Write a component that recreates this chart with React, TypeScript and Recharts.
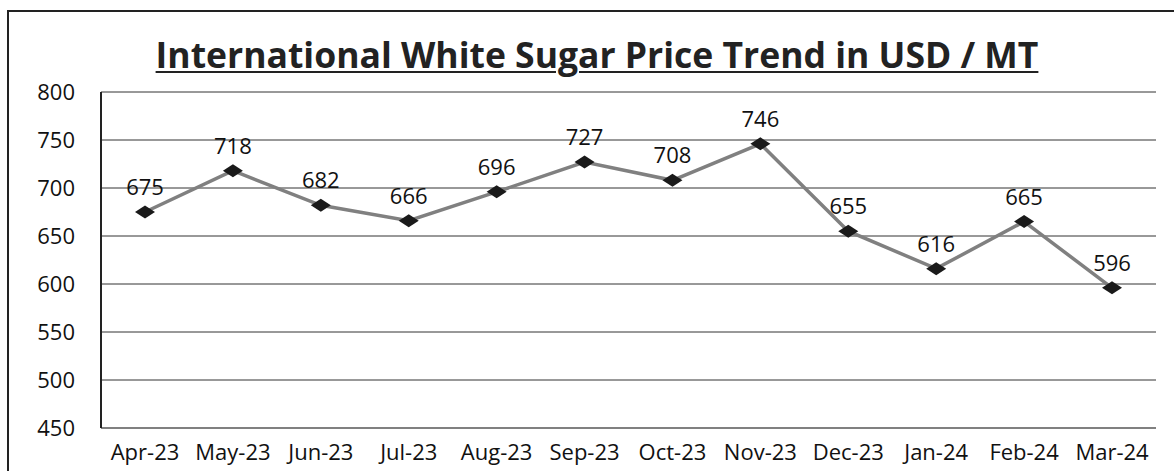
import { CartesianGrid, LabelList, Line, LineChart, XAxis, YAxis } from "recharts";

const months = [
  "Apr-23", "May-23", "Jun-23", "Jul-23", "Aug-23", "Sep-23",
  "Oct-23", "Nov-23", "Dec-23", "Jan-24", "Feb-24", "Mar-24",
];
const prices = [675, 718, 682, 666, 696, 727, 708, 746, 655, 616, 665, 596];
const yTicks = [450, 500, 550, 600, 650, 700, 750, 800];

const data = months.map((month, i) => ({ month, price: prices[i] }));

const FONT = "'Open Sans', 'Noto Sans', sans-serif";

function Diamond(props: { cx?: number; cy?: number; index?: number }) {
  const { cx, cy, index } = props;
  if (cx == null || cy == null) return null;
  return (
    <polygon
      key={`d-${index}`}
      points={`${cx - 10},${cy} ${cx},${cy - 6.5} ${cx + 10},${cy} ${cx},${cy + 6.5}`}
      fill="#1a1a1a"
    />
  );
}

export default function App() {
  return (
    <div
      style={{
        position: "fixed",
        left: 0,
        top: 0,
        width: 1174,
        height: 471,
        background: "#fff",
        overflow: "hidden",
        fontFamily: FONT,
      }}
    >
      <div
        style={{
          position: "absolute",
          left: 7,
          top: 10,
          width: 1200,
          height: 500,
          border: "2px solid #222",
          boxSizing: "border-box",
        }}
      />
      <div
        style={{
          position: "absolute",
          left: 0,
          top: 29,
          width: 1194,
          textAlign: "center",
          fontSize: 35.5,
          fontWeight: 700,
          color: "#222",
          textDecoration: "underline",
          textDecorationThickness: 2,
          textUnderlineOffset: 3,
          lineHeight: "50px",
        }}
      >
        International White Sugar Price Trend in USD / MT
      </div>
      <div style={{ position: "absolute", left: 0, top: 0 }}>
        <LineChart
          width={1174}
          height={471}
          data={data}
          margin={{ top: 92, right: 18, bottom: 0, left: 0 }}
        >
          <CartesianGrid vertical={false} stroke="#333" strokeWidth={1} />
          <XAxis
            dataKey="month"
            height={43}
            interval={0}
            padding={{ left: 44, right: 44 }}
            tickLine={false}
            tickSize={0}
            tickMargin={16}
            axisLine={{ stroke: "#808080", strokeWidth: 2 }}
            tick={{ fontSize: 22, fill: "#111", fontFamily: FONT }}
          />
          <YAxis
            width={101}
            domain={[450, 800]}
            ticks={yTicks}
            interval={0}
            tickLine={false}
            tickSize={0}
            tickMargin={26}
            axisLine={{ stroke: "#222", strokeWidth: 2 }}
            tick={{ fontSize: 22, fill: "#111", fontFamily: FONT }}
          />
          <Line
            dataKey="price"
            stroke="#808080"
            strokeWidth={3.5}
            dot={<Diamond />}
            activeDot={false}
            isAnimationActive={false}
          >
            <LabelList
              dataKey="price"
              position="top"
              offset={17}
              style={{ fontSize: 22, fill: "#111", fontFamily: FONT }}
            />
          </Line>
        </LineChart>
      </div>
    </div>
  );
}
